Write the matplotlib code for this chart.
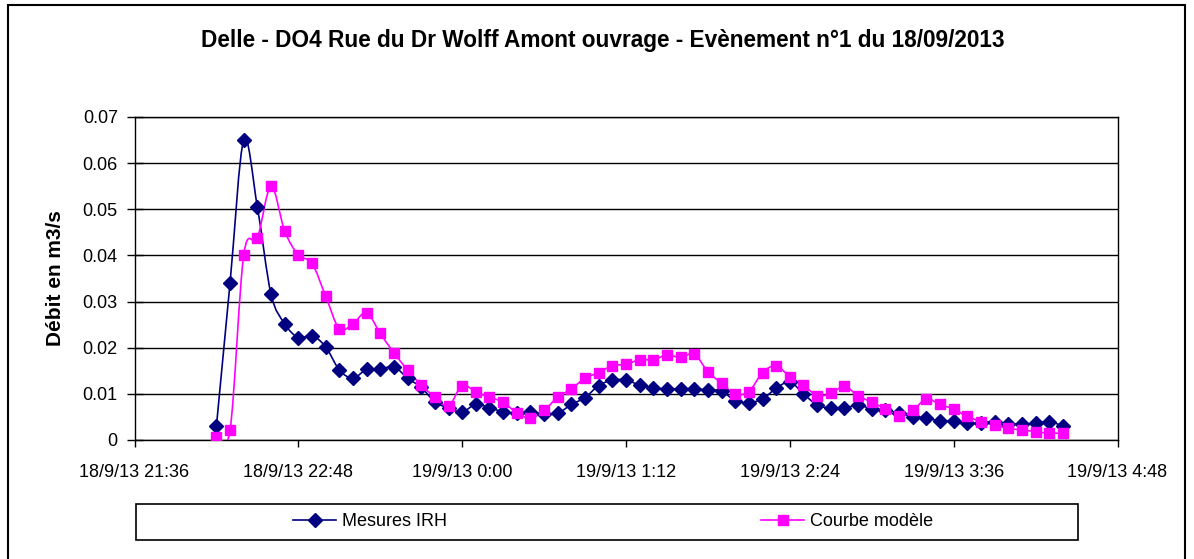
import numpy as np
import pandas as pd
import matplotlib
matplotlib.use("Agg")
from matplotlib import pyplot as plt
from matplotlib import dates as mdates
from matplotlib.path import Path
from matplotlib.patches import PathPatch, Rectangle
from matplotlib.lines import Line2D
from datetime import datetime, timedelta

plt.rcParams['font.family'] = ['Liberation Sans', 'DejaVu Sans']

# 6-minute time steps, 18/09/2013 22:12 -> 19/09/2013 4:00
times = pd.date_range("2013-09-18 22:12", periods=63, freq="6min")

mesures_irh = [0.0030, 0.0341, 0.0650, 0.0505, 0.0316, 0.0252, 0.0222, 0.0226,
               0.0202, 0.0152, 0.0134, 0.0153, 0.0153, 0.0159, 0.0134, 0.0114,
               0.0083, 0.0069, 0.0061, 0.0077, 0.0070, 0.0061, 0.0058, 0.0061,
               0.0056, 0.0058, 0.0077, 0.0092, 0.0118, 0.0130, 0.0130, 0.0119,
               0.0113, 0.0111, 0.0111, 0.0111, 0.0108, 0.0106, 0.0085, 0.0081,
               0.0089, 0.0112, 0.0126, 0.0100, 0.0076, 0.0069, 0.0069, 0.0076,
               0.0067, 0.0064, 0.0059, 0.0050, 0.0048, 0.0041, 0.0042, 0.0036,
               0.0037, 0.0040, 0.0035, 0.0035, 0.0036, 0.0040, 0.0030]

courbe_modele = [0.0007, 0.0022, 0.0401, 0.0438, 0.0550, 0.0453, 0.0401, 0.0383,
                 0.0312, 0.0241, 0.0252, 0.0276, 0.0231, 0.0189, 0.0152, 0.0119,
                 0.0093, 0.0074, 0.0118, 0.0104, 0.0093, 0.0082, 0.0059, 0.0047,
                 0.0064, 0.0093, 0.0111, 0.0134, 0.0146, 0.0161, 0.0164, 0.0174,
                 0.0174, 0.0184, 0.0179, 0.0186, 0.0148, 0.0123, 0.0100, 0.0105,
                 0.0146, 0.0161, 0.0137, 0.0119, 0.0096, 0.0101, 0.0116, 0.0096,
                 0.0082, 0.0067, 0.0051, 0.0064, 0.0089, 0.0077, 0.0067, 0.0051,
                 0.0040, 0.0033, 0.0025, 0.0022, 0.0018, 0.0015, 0.0015]

x_start = datetime(2013, 9, 18, 21, 36)
x_end = datetime(2013, 9, 19, 4, 48)
x_ticks = [x_start + timedelta(minutes=72 * k) for k in range(7)]
y_ticks = [0, 0.01, 0.02, 0.03, 0.04, 0.05, 0.06, 0.07]


def smooth_path(x, y):
    # excel-like smoothed line: cubic bezier through every point
    pts = np.column_stack([x, y])
    n = len(pts)
    verts = [pts[0]]
    codes = [Path.MOVETO]
    for i in range(n - 1):
        p0 = pts[i - 1] if i > 0 else pts[i]
        p1 = pts[i]
        p2 = pts[i + 1]
        p3 = pts[i + 2] if i + 2 < n else pts[i + 1]
        c1 = p1 + (p2 - p0) / 6.0
        c2 = p2 - (p3 - p1) / 6.0
        verts += [c1, c2, p2]
        codes += [Path.CURVE4] * 3
    return Path(verts, codes)


fig = plt.figure(figsize=(11.94, 5.59), dpi=100)
ax = fig.add_axes([134.5 / 1194, 119 / 559, 983 / 1194, 323 / 559])

xn = mdates.date2num(times.to_pydatetime())
series = [(mesures_irh, "#000080", "D", 7, "Mesures IRH"),
          (courbe_modele, "#FF00FF", "s", 6.5, "Courbe modèle")]
handles = []
for vals, col, mk, ms, lab in series:
    ax.add_patch(PathPatch(smooth_path(xn, np.array(vals)), facecolor="none",
                           edgecolor=col, lw=1.2, zorder=3))
    ax.plot(xn, vals, linestyle="none", marker=mk, ms=ms, color=col,
            markeredgecolor=col, zorder=4)
    handles.append(Line2D([], [], color=col, lw=1.2, marker=mk, ms=ms))

ax.set_xlim(mdates.date2num(x_start), mdates.date2num(x_end))
ax.set_ylim(0, 0.07)
ax.set_xticks(mdates.date2num(x_ticks))
ax.set_xticklabels([f"{d.day}/{d.month}/{d.strftime('%y')} {d.hour}:{d.minute:02d}"
                    for d in x_ticks])
ax.set_yticks(y_ticks)
ax.set_yticklabels(["0"] + [f"{v:.2f}" for v in y_ticks[1:]])
ax.yaxis.grid(True, color="black", lw=1.0)
ax.set_axisbelow(True)
ax.tick_params(axis="x", direction="out", length=5, width=1, pad=12, labelsize=13)
ax.tick_params(axis="y", direction="inout", length=12, width=1, pad=6, labelsize=13)
for sp in ax.spines.values():
    sp.set_linewidth(1.0)
    sp.set_color("black")

ax.set_ylabel("Débit en m3/s", fontsize=15, fontweight="bold", labelpad=13)
fig.text(603 / 1194, (559 - 40) / 559, "Delle - DO4 Rue du Dr Wolff Amont ouvrage - Evènement n°1 du 18/09/2013",
         ha="center", va="center", fontsize=16.3, fontweight="bold")

# legend box and entries
fig.add_artist(Rectangle((136 / 1194, (559 - 540) / 559), 942 / 1194, 36 / 559,
                         transform=fig.transFigure, fill=False, edgecolor="black", lw=1.2))
fig.legend(handles, [s[4] for s in series], loc="center",
           bbox_to_anchor=(613 / 1194, (559 - 522) / 559), ncol=2, frameon=False,
           fontsize=13, handlelength=2.4, handletextpad=0.3, columnspacing=17.4)

# outer chart border
fig.add_artist(Rectangle((8 / 1194, -0.1), 1177 / 1194, 0.1 + (559 - 5) / 559,
                         transform=fig.transFigure, fill=False, edgecolor="black", lw=1.5))

fig.savefig("out.png", dpi=100)
